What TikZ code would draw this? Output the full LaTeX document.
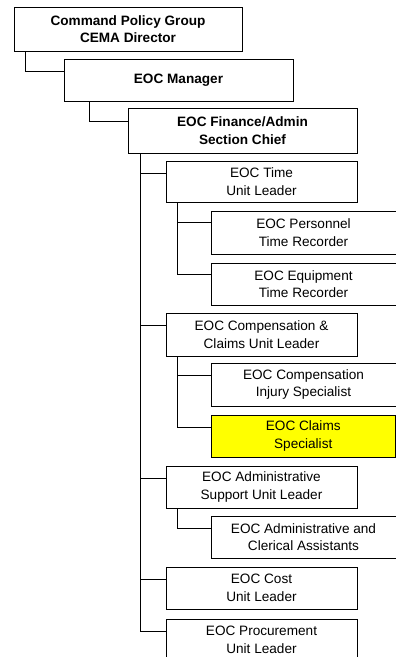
\documentclass[tikz,border=0pt]{standalone}
\usepackage{fontspec}
\setmainfont{Liberation Sans}
\tikzstyle{post}=[draw, line width=0.9pt, inner sep=0pt, align=center, font=\fontsize{13.6}{17.5}\selectfont]
\tikzstyle{head post}=[post, minimum width=229pt, minimum height=43pt, font=\fontsize{13.6}{17.5}\selectfont\bfseries]
\tikzstyle{unit post}=[post, minimum width=191pt, minimum height=42pt]
\tikzstyle{staff post}=[post, minimum width=185pt, minimum height=43pt]
\tikzstyle{link}=[line width=0.9pt]

\begin{document}
\begin{tikzpicture}[x=1pt, y=-1pt]
      \clip (0, 0) rectangle (396, 657);
      \fill[white] (0, 0) rectangle (396, 657);
      \node[head post, minimum width=228pt, minimum height=44pt] (cema) at (128, 29) {Command Policy Group\\CEMA Director};
      \node[head post, minimum height=42pt] (mgr) at (178.5, 80) {EOC Manager};
      \node[head post, minimum height=45pt] (fin) at (242.5, 130.5) {EOC Finance/Admin\\Section Chief};
      \node[unit post, minimum height=41pt] (time) at (261.5, 181.5) {EOC Time\\Unit Leader};
      \node[staff post] (pers) at (303.5, 232.5) {EOC Personnel\\Time Recorder};
      \node[staff post, minimum height=42pt] (equip) at (303.5, 284) {EOC Equipment\\Time Recorder};
      \node[unit post, minimum height=43pt] (comp) at (261.5, 334.5) {EOC Compensation \&\\Claims Unit Leader};
      \node[staff post] (injury) at (303.5, 384.5) {EOC Compensation\\Injury Specialist};
      \node[staff post, minimum width=184.5pt, minimum height=42pt, fill={rgb,255:red,255;green,255;blue,0}] (claims) at (303.25, 436) {EOC Claims\\Specialist};
      \node[unit post] (admin) at (261.5, 487) {EOC Administrative\\Support Unit Leader};
      \node[staff post, minimum height=42pt] (cleric) at (303.5, 537) {EOC Administrative and\\Clerical Assistants};
      \node[unit post] (cost) at (261.5, 588) {EOC Cost\\Unit Leader};
      \node[unit post] (proc) at (261.5, 640) {EOC Procurement\\Unit Leader};
      \draw[link] ([xshift=12pt]cema.south west) |- ([yshift=-13pt]mgr.north west);
      \draw[link] ([xshift=26pt]mgr.south west) |- ([yshift=-14pt]fin.north west);
      \foreach \unit in {time, comp, admin, cost, proc}
        \draw[link] ([xshift=13pt]fin.south west) |- ([yshift=-12.5pt]\unit.north west);
      \foreach \staff in {pers, equip}
        \draw[link] ([xshift=12pt]time.south west) |- ([yshift=-12pt]\staff.north west);
      \foreach \staff in {injury, claims}
        \draw[link] ([xshift=12pt]comp.south west) |- ([yshift=-13pt]\staff.north west);
      \draw[link] ([xshift=12pt]admin.south west) |- ([yshift=-13pt]cleric.north west);
    \end{tikzpicture}
\end{document}
